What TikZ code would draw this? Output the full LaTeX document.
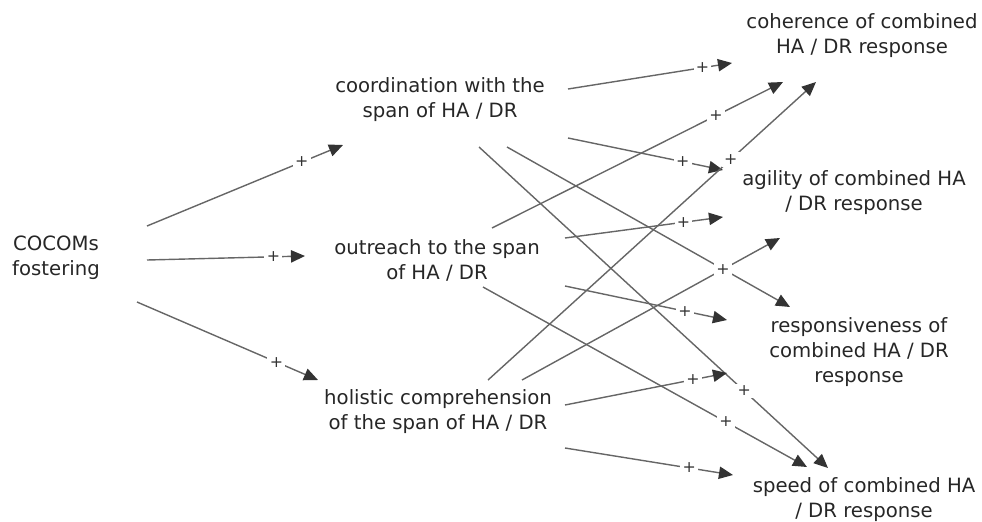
\documentclass[tikz,border=0pt]{standalone}
\usepackage{fontspec}
\setmainfont{DejaVu Sans}
\usepackage{tikz}
\usetikzlibrary{arrows.meta,calc}
\tikzset{
  factor/.style={align=center, inner sep=2pt, font=\fontsize{11.2}{14.2}\selectfont, text=black!85},
  link/.style={draw=black!60, line width=0.8pt, -{Triangle[length=8pt,width=7pt,color=black!80]}},
  plus/.style={fill=white, inner sep=1.3pt, font=\fontsize{9}{9}\selectfont, text=black!80}
}
% one causal link: from, offset, to, offset, where the + sits
\newcommand{\influence}[5]{%
  \draw[link] ($(#1)+(#2)$) -- node[plus,pos=#5]{+} ($(#3)+(#4)$);}

\begin{document}
\begin{tikzpicture}[x=0.02cm, y=-0.02cm]
  \useasboundingbox (0,0) rectangle (982,521);

  % drivers
  \node[factor] (cocom) at (56,258) {COCOMs\\fostering};

  % capabilities
  \node[factor] (coord) at (440,100) {coordination with the\\span of HA / DR};
  \node[factor] (outreach) at (437,260) {outreach to the span\\of HA / DR};
  \node[factor] (holistic) at (438,412) {holistic comprehension\\of the span of HA / DR};

  % outcomes
  \node[factor] (coherence) at (862,36) {coherence of combined\\HA / DR response};
  \node[factor] (agility) at (854,193) {agility of combined HA\\/ DR response};
  \node[factor] (respons) at (859,352) {responsiveness of\\combined HA / DR\\response};
  \node[factor] (speed) at (864,500) {speed of combined HA\\/ DR response};

  \influence{cocom}{91,-32}{coord}{-97,45}{0.79}
  \influence{cocom}{91,2}{outreach}{-132,-4}{0.80}
  \influence{cocom}{81,44}{holistic}{-120,-32}{0.77}

  \influence{coord}{128,-11}{coherence}{-130,27}{0.82}
  \influence{coord}{128,38}{agility}{-131,-23}{0.74}
  \influence{coord}{67,47}{respons}{-69,-45}{0.763}
  \influence{coord}{39,47}{speed}{-36,-32}{0.76}

  \influence{outreach}{55,-32}{coherence}{-79,46}{0.77}
  \influence{outreach}{128,-22}{agility}{-131,24}{0.75}
  \influence{outreach}{128,26}{respons}{-132,-32}{0.74}
  \influence{outreach}{46,27}{speed}{-57,-33}{0.75}

  \influence{holistic}{50,-32}{coherence}{-46,46}{0.74}
  \influence{holistic}{84,-32}{agility}{-74,45}{0.779}
  \influence{holistic}{127,-7}{respons}{-132,21}{0.79}
  \influence{holistic}{127,36}{speed}{-131,-25}{0.74}
\end{tikzpicture}
\end{document}
